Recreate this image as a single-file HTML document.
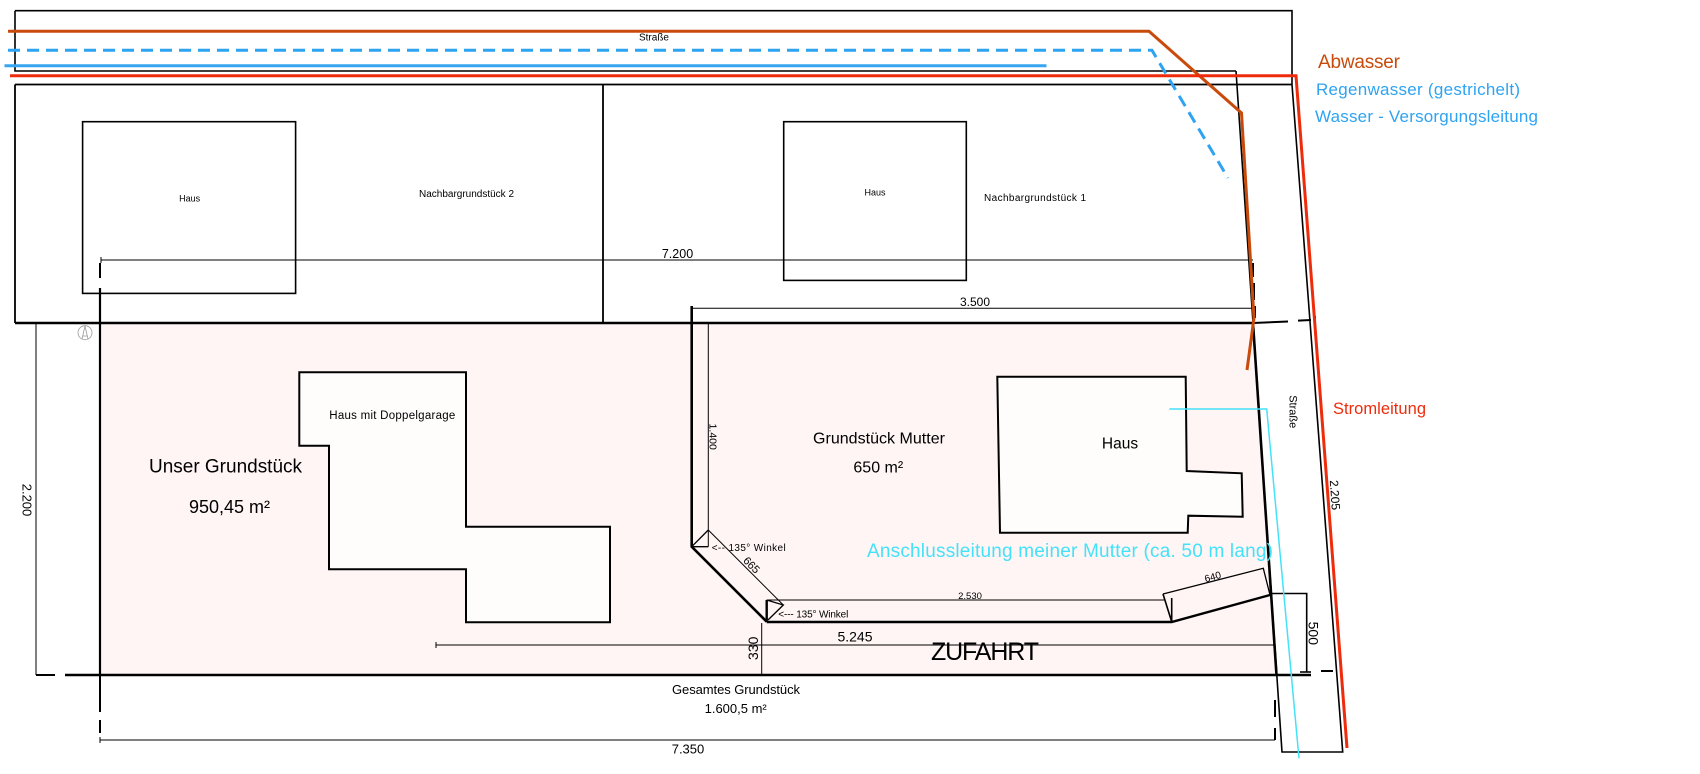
<!DOCTYPE html>
<html><head><meta charset="utf-8"><style>
html,body{margin:0;padding:0;background:#fff;}
svg{display:block;}
text{font-family:"Liberation Sans",sans-serif;}
</style></head><body>
<svg width="1700" height="774" viewBox="0 0 1700 774" xmlns="http://www.w3.org/2000/svg">
<!-- lot fill -->
<polygon points="100,323 1253,323 1276.5,675 100,675" fill="#fff5f5"/>
<!-- houses -->
<rect x="82.6" y="121.7" width="213" height="171.7" fill="#fff" stroke="#000" stroke-width="1.6"/>
<rect x="783.7" y="121.7" width="182.6" height="158.7" fill="#fff" stroke="#000" stroke-width="1.6"/>
<polygon points="299.3,372.3 466,372.3 466,526.7 610,526.7 610,622.3 466,622.3 466,569.3 329,569.3 329,445.7 299.3,445.7" fill="#fffcfc" stroke="#000" stroke-width="2"/>
<polygon points="997.3,376.7 1185.7,376.7 1186.7,471 1241.7,473.3 1242.7,516.7 1188.3,515.7 1187.7,532.7 1000,532.7" fill="#fffcfc" stroke="#000" stroke-width="2"/>

<g fill="none" stroke="#000">
<!-- top street rect -->
<path d="M15,10.7 H1292 V84.5 M15,10.7 V71 H1236" stroke-width="1.6"/>
<!-- neighbour lots -->
<path d="M15,84.5 H1292 M15,84.5 V323 M603,84.5 V323" stroke-width="1.8"/>
<!-- street inner/outer -->
<path d="M1236,71 L1282,752 H1342.7 L1292,84.5" stroke-width="1.6"/>
<path d="M1253,323 L1276.5,675" stroke-width="2.6"/>
<!-- lot top -->
<path d="M15,323 H1253" stroke-width="2.4"/>
<path d="M1253,323 L1288,321.5 M1298,320.6 L1311,320 M1315,316 V324" stroke-width="2"/>
<!-- lot bottom -->
<path d="M65,675 H1311" stroke-width="2.4"/>
<path d="M36,675 H55 M1321,671 H1333" stroke-width="2"/>
<!-- left boundary -->
<path d="M100,288 V675" stroke-width="2.2"/>
<path d="M100,263 V278 M100,675 V712 M100,720 V733" stroke-width="2"/>
<!-- 2.200 dimension -->
<path d="M36,323 V675" stroke-width="1"/>
<!-- 7.200 dimension -->
<path d="M101,260 H1253 M101,257 V263" stroke-width="1"/>
<path d="M1253,263 V277 M1254,283 V300 M1255,306 V318" stroke-width="2"/>
<!-- 3.500 dimension -->
<path d="M691.7,308.3 H1252 M1252,305 V312" stroke-width="1"/>
<!-- mutter boundary -->
<path d="M691.7,306 V546.7 L766.7,621.7" stroke-width="2.6"/>
<!-- 1.400 dim -->
<path d="M708.3,323 V546.7" stroke-width="1"/>
<!-- angle marker 1 -->
<path d="M691.7,546.7 L708.3,530 M691.7,546.7 H708.3" stroke-width="1.3"/>
<!-- 665 dim -->
<path d="M708.3,530 L783.3,605" stroke-width="1"/>
<!-- angle marker 2 -->
<path d="M766.7,600 L783.3,605 L768,620" stroke-width="1.3"/>
<path d="M766.7,600 V622" stroke-width="2.4"/>
<!-- 2.530 dim -->
<path d="M766.7,600 H1165" stroke-width="1"/>
<!-- zufahrt top -->
<path d="M766.7,622 H1171.7 L1270,595" stroke-width="2.4"/>
<!-- angle marker 3 -->
<path d="M1163,594 L1171.7,621.7 M1171.7,598 V621.7" stroke-width="1.6"/>
<!-- 640 dim -->
<path d="M1163,594 L1263.3,568.3 L1270,595" stroke-width="1.3"/>
<!-- 500 dim -->
<path d="M1270,593.5 H1306.7 V672" stroke-width="1.6"/>
<path d="M1300,672 H1311" stroke-width="1.6"/>
<!-- 5.245 dim -->
<path d="M436,645 H1275 M436,642 V648" stroke-width="1"/>
<!-- 330 dim -->
<path d="M761.7,623 V675" stroke-width="1"/>
<!-- 7.350 dim -->
<path d="M100,740 H1275 M100,737 V743" stroke-width="1"/>
<path d="M1275,700 V717 M1275,728 V740" stroke-width="2"/>
</g>

<!-- compass -->
<g stroke="#999" fill="none" stroke-width="0.8">
<circle cx="85" cy="332.7" r="7"/>
<path d="M82,339 L85,326 L88,339 M83,336 H87"/>
</g>

<!-- pipes -->
<g fill="none" stroke-linejoin="miter">
<path d="M8,31.3 H1149 L1241.5,113 L1254,318 L1247,370" stroke="#c84b0c" stroke-width="3"/>
<path d="M8,50.3 H1152 L1228,178" stroke="#2ea3f2" stroke-width="3" stroke-dasharray="12 7"/>
<path d="M4.5,65.7 H1046.5" stroke="#36a6f0" stroke-width="3"/>
<path d="M10,75.7 H1296 L1347,748" stroke="#ee2c0c" stroke-width="3"/>
<path d="M1169.3,409 H1266.7 L1299,758.3" stroke="#44e2f8" stroke-width="1.5"/>
</g>

<!-- texts -->
<g fill="#000">
<text x="654" y="40.5" font-size="10" text-anchor="middle">Straße</text>
<text x="189.6" y="201.5" font-size="9" text-anchor="middle">Haus</text>
<text x="466.5" y="197" font-size="10" text-anchor="middle" textLength="95">Nachbargrundstück 2</text>
<text x="875" y="195.5" font-size="9" text-anchor="middle">Haus</text>
<text x="1035" y="201" font-size="10" text-anchor="middle" textLength="102">Nachbargrundstück 1</text>
<text x="677.5" y="258" font-size="12.5" text-anchor="middle">7.200</text>
<text x="975" y="306" font-size="12" text-anchor="middle">3.500</text>
<text transform="translate(713.3,436.7) rotate(90)" font-size="10.5" text-anchor="middle" dy="0.35em">1.400</text>
<text x="149" y="472.5" font-size="19" textLength="153">Unser Grundstück</text>
<text x="229.5" y="513" font-size="18" text-anchor="middle">950,45 m²</text>
<text x="329.3" y="419" font-size="11.5" textLength="126">Haus mit Doppelgarage</text>
<text x="879" y="443.5" font-size="16" text-anchor="middle" textLength="132">Grundstück Mutter</text>
<text x="878.3" y="472.5" font-size="16" text-anchor="middle">650 m²</text>
<text x="1120" y="448.5" font-size="15.5" text-anchor="middle">Haus</text>
<text x="711.7" y="550.8" font-size="10" textLength="74">&lt;-- 135° Winkel</text>
<text transform="translate(751.7,565) rotate(45)" font-size="11" text-anchor="middle" dy="0.35em">665</text>
<text x="778.3" y="617.5" font-size="10" textLength="70">&lt;--- 135° Winkel</text>
<text x="970" y="599" font-size="9.5" text-anchor="middle">2.530</text>
<text transform="translate(1212.7,576.7) rotate(-16)" font-size="10" text-anchor="middle" dy="0.35em">640</text>
<text x="855" y="641.5" font-size="14" text-anchor="middle">5.245</text>
<text x="985" y="660" font-size="25" text-anchor="middle" textLength="108">ZUFAHRT</text>
<text transform="translate(753.3,648.3) rotate(-90)" font-size="14" text-anchor="middle" dy="0.35em">330</text>
<text transform="translate(1313.3,633.3) rotate(90)" font-size="14" text-anchor="middle" dy="0.35em">500</text>
<text transform="translate(1335,495) rotate(86)" font-size="12" text-anchor="middle" dy="0.35em">2.205</text>
<text transform="translate(1293.3,411.7) rotate(90)" font-size="11" text-anchor="middle" dy="0.35em">Straße</text>
<text transform="translate(27.3,500) rotate(90)" font-size="13" text-anchor="middle" dy="0.35em">2.200</text>
<text x="736" y="694" font-size="13" text-anchor="middle" textLength="128">Gesamtes Grundstück</text>
<text x="735.7" y="713" font-size="13" text-anchor="middle">1.600,5 m²</text>
<text x="688" y="753.5" font-size="13" text-anchor="middle">7.350</text>
</g>
<text x="1318" y="68" font-size="19" fill="#c84b0c" textLength="82">Abwasser</text>
<text x="1316" y="95" font-size="17" fill="#2ea3f2" textLength="204">Regenwasser (gestrichelt)</text>
<text x="1315" y="122" font-size="17" fill="#2ea3f2" textLength="223">Wasser - Versorgungsleitung</text>
<text x="1333" y="414" font-size="16.5" fill="#ee2c0c" textLength="93">Stromleitung</text>
<text x="867" y="557" font-size="19" fill="#44e2f8" textLength="406">Anschlussleitung meiner Mutter (ca. 50 m lang)</text>
</svg>
</body></html>
